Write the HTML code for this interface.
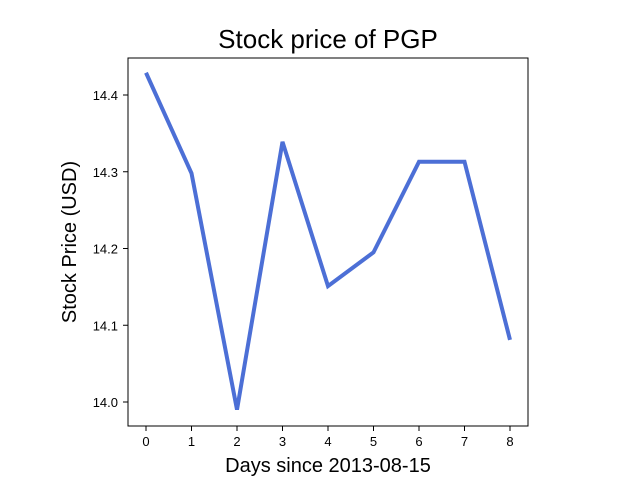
<!DOCTYPE html>
<html><head><style>
body{margin:0;background:#fff;}
svg text{font-family:"Liberation Sans","DejaVu Sans",sans-serif;}
</style></head><body>
<svg id="chart" width="640" height="480" xmlns="http://www.w3.org/2000/svg">
<rect width="640" height="480" fill="#fff"/>
<text x="328" y="48" font-size="26" text-anchor="middle">Stock price of PGP</text>
<rect x="128" y="58" width="400" height="368" fill="none" stroke="#000" stroke-width="1"/>
<g id="xt"></g><g id="yt"></g>
<text x="328" y="472" font-size="20" text-anchor="middle">Days since 2013-08-15</text>
<text transform="translate(76,242) rotate(-90)" font-size="20" text-anchor="middle">Stock Price (USD)</text>
<path id="line" fill="none" stroke="#4c6fd6" stroke-width="4" stroke-linejoin="miter"/>
</svg>
<script>
const days=[0,1,2,3,4,5,6,7,8];
const prices=[14.429,14.298,13.990,14.339,14.151,14.195,14.313,14.313,14.081];
const yTicks=[14.0,14.1,14.2,14.3,14.4];
const yLabels=["14.0","14.1","14.2","14.3","14.4"];
function xs(v){return 146+v*45.5;}
function ys(v){return 402-(v-14.0)*767.5;}
const NS="http://www.w3.org/2000/svg";
const xt=document.getElementById('xt'),yt=document.getElementById('yt');
days.forEach(d=>{
 const l=document.createElementNS(NS,'line');
 l.setAttribute('x1',xs(d));l.setAttribute('x2',xs(d));l.setAttribute('y1',426);l.setAttribute('y2',431);l.setAttribute('stroke','#000');
 
 
 xt.appendChild(l);
 const t=document.createElementNS(NS,'text');
 t.setAttribute('x',xs(d));t.setAttribute('y',446);t.setAttribute('font-size','13');t.setAttribute('text-anchor','middle');t.textContent=d;
 
 
 xt.appendChild(t);
});
yTicks.forEach((v,i)=>{
 const l=document.createElementNS(NS,'line');
 l.setAttribute('x1',123);l.setAttribute('x2',128);l.setAttribute('y1',ys(v));l.setAttribute('y2',ys(v));l.setAttribute('stroke','#000');
 
 
 yt.appendChild(l);
 const t=document.createElementNS(NS,'text');
 t.setAttribute('x',118);t.setAttribute('y',ys(v)+5);t.setAttribute('font-size','13');t.setAttribute('text-anchor','end');t.textContent=yLabels[i];
 
 
 yt.appendChild(t);
});
document.getElementById('line').setAttribute('d',days.map((d,i)=>(i?'L':'M')+xs(d)+','+ys(prices[i])).join(' '));
</script>
</body></html>
